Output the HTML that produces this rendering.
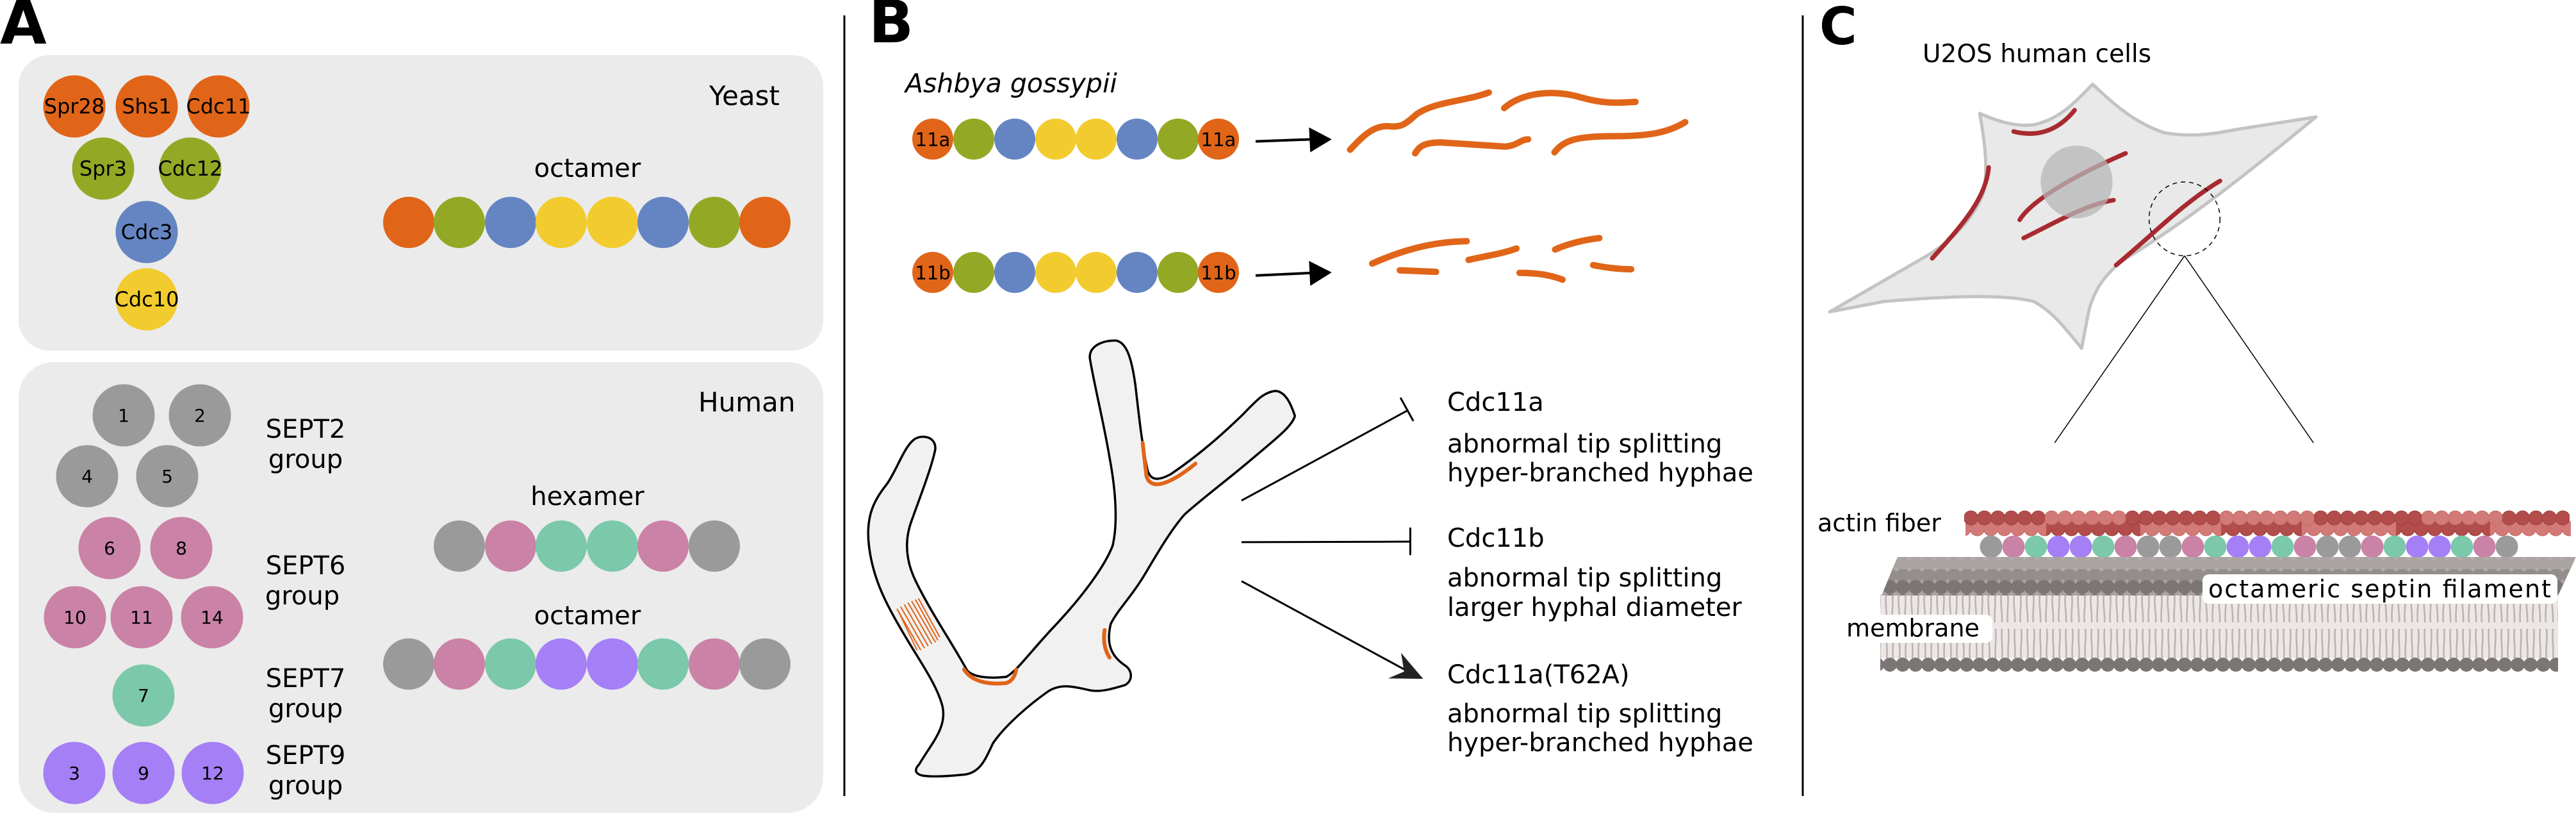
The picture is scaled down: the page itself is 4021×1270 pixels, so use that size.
<!DOCTYPE html>
<html><head><meta charset="utf-8"><style>
html,body{margin:0;padding:0;background:#fff;}
svg{display:block;}
text{font-family:"DejaVu Sans","Liberation Sans",sans-serif;fill:#000;}
</style></head><body>
<svg width="4021" height="1270" viewBox="0 0 4021 1270" xmlns="http://www.w3.org/2000/svg">
<defs>
<pattern id="beadD" x="0" y="796" width="21" height="24" patternUnits="userSpaceOnUse"><circle cx="10.5" cy="12" r="11" fill="#b24d4b" stroke="#9a3c3a" stroke-width="1"/></pattern>
<pattern id="beadL" x="0" y="796" width="21" height="24" patternUnits="userSpaceOnUse"><circle cx="10.5" cy="12" r="11" fill="#d27a77" stroke="#c06864" stroke-width="1"/></pattern>
<pattern id="headsTop1" x="0" y="870" width="20" height="20" patternUnits="userSpaceOnUse"><rect width="20" height="20" fill="#b3aeac"/><circle cx="10" cy="10" r="11" fill="#a9a4a2"/></pattern>
<pattern id="headsTop2" x="0" y="888" width="20" height="20" patternUnits="userSpaceOnUse"><circle cx="10" cy="10" r="11" fill="#938e8c"/></pattern>
<pattern id="headsTop3" x="0" y="905" width="20" height="22" patternUnits="userSpaceOnUse"><circle cx="10" cy="11" r="11" fill="#7b7674"/></pattern>
<pattern id="headsBot" x="0" y="1026" width="20" height="22" patternUnits="userSpaceOnUse"><circle cx="10" cy="11" r="11" fill="#7b7674"/></pattern>
<pattern id="tails" x="0" y="927" width="20" height="100" patternUnits="userSpaceOnUse">
<path d="M4,0 C2,15 6,30 5,44 M14,0 C16,15 12,30 14,44 M5,54 C3,70 7,85 5,100 M15,54 C17,70 13,85 15,100" stroke="#b8b2b0" stroke-width="2.5" fill="none"/></pattern>
</defs>

<!-- ===== Panel A ===== -->
<text x="0" y="68" font-size="94" font-weight="bold">A</text>
<rect x="29" y="86" width="1256" height="461" rx="48" fill="#ebebeb"/>
<rect x="29" y="565" width="1256" height="703" rx="55" fill="#ebebeb"/>

<g font-size="32" text-anchor="middle">
<circle cx="116" cy="166" r="48.5" fill="#e06519"/><text x="116" y="177">Spr28</text>
<circle cx="229" cy="166" r="48.5" fill="#e06519"/><text x="229" y="177">Shs1</text>
<circle cx="341" cy="166" r="48.5" fill="#e06519"/><text x="341" y="177">Cdc11</text>
<circle cx="161" cy="263" r="48.5" fill="#93a925"/><text x="161" y="274">Spr3</text>
<circle cx="297" cy="263" r="48.5" fill="#93a925"/><text x="297" y="274">Cdc12</text>
<circle cx="229" cy="362" r="48.5" fill="#6585c2"/><text x="229" y="373">Cdc3</text>
<circle cx="229" cy="467" r="48.5" fill="#f2cb2e"/><text x="229" y="478">Cdc10</text>
</g>
<text x="1107" y="164" font-size="42">Yeast</text>
<text x="917" y="276" font-size="40" text-anchor="middle">octamer</text>
<g>
<circle cx="638" cy="347" r="40" fill="#e06519"/><circle cx="717" cy="347" r="40" fill="#93a925"/>
<circle cx="797" cy="347" r="40" fill="#6585c2"/><circle cx="876" cy="347" r="40" fill="#f2cb2e"/>
<circle cx="956" cy="347" r="40" fill="#f2cb2e"/><circle cx="1035" cy="347" r="40" fill="#6585c2"/>
<circle cx="1115" cy="347" r="40" fill="#93a925"/><circle cx="1194" cy="347" r="40" fill="#e06519"/>
</g>

<text x="1090" y="642" font-size="42">Human</text>
<g font-size="28" text-anchor="middle">
<circle cx="193" cy="648" r="48.5" fill="#9a9a9a"/><text x="193" y="658">1</text>
<circle cx="312" cy="648" r="48.5" fill="#9a9a9a"/><text x="312" y="658">2</text>
<circle cx="136" cy="743" r="48.5" fill="#9a9a9a"/><text x="136" y="753">4</text>
<circle cx="261" cy="743" r="48.5" fill="#9a9a9a"/><text x="261" y="753">5</text>
<circle cx="171" cy="855" r="48.5" fill="#ca82a6"/><text x="171" y="865">6</text>
<circle cx="283" cy="855" r="48.5" fill="#ca82a6"/><text x="283" y="865">8</text>
<circle cx="117" cy="963" r="48.5" fill="#ca82a6"/><text x="117" y="973">10</text>
<circle cx="221" cy="963" r="48.5" fill="#ca82a6"/><text x="221" y="973">11</text>
<circle cx="331" cy="963" r="48.5" fill="#ca82a6"/><text x="331" y="973">14</text>
<circle cx="224" cy="1085" r="48.5" fill="#7bc8ab"/><text x="224" y="1095">7</text>
<circle cx="116" cy="1206" r="48.5" fill="#a47ff5"/><text x="116" y="1216">3</text>
<circle cx="224" cy="1206" r="48.5" fill="#a47ff5"/><text x="224" y="1216">9</text>
<circle cx="332" cy="1206" r="48.5" fill="#a47ff5"/><text x="332" y="1216">12</text>
</g>
<g font-size="40" text-anchor="middle">
<text x="477" y="683">SEPT2</text><text x="477" y="730">group</text>
<text x="477" y="896">SEPT6</text><text x="472" y="943">group</text>
<text x="477" y="1072">SEPT7</text><text x="477" y="1119">group</text>
<text x="477" y="1192">SEPT9</text><text x="477" y="1239">group</text>
</g>
<text x="917" y="788" font-size="40" text-anchor="middle">hexamer</text>
<g>
<circle cx="717" cy="852" r="40" fill="#9a9a9a"/><circle cx="797" cy="852" r="40" fill="#ca82a6"/>
<circle cx="876" cy="852" r="40" fill="#7bc8ab"/><circle cx="956" cy="852" r="40" fill="#7bc8ab"/>
<circle cx="1035" cy="852" r="40" fill="#ca82a6"/><circle cx="1115" cy="852" r="40" fill="#9a9a9a"/>
</g>
<text x="917" y="974" font-size="40" text-anchor="middle">octamer</text>
<g>
<circle cx="638" cy="1036" r="40" fill="#9a9a9a"/><circle cx="717" cy="1036" r="40" fill="#ca82a6"/>
<circle cx="797" cy="1036" r="40" fill="#7bc8ab"/><circle cx="876" cy="1036" r="40" fill="#a47ff5"/>
<circle cx="956" cy="1036" r="40" fill="#a47ff5"/><circle cx="1035" cy="1036" r="40" fill="#7bc8ab"/>
<circle cx="1115" cy="1036" r="40" fill="#ca82a6"/><circle cx="1194" cy="1036" r="40" fill="#9a9a9a"/>
</g>

<line x1="1318" y1="24" x2="1318" y2="1242" stroke="#000" stroke-width="3"/>
<line x1="2814" y1="24" x2="2814" y2="1242" stroke="#000" stroke-width="3"/>

<!-- ===== Panel B ===== -->
<text x="1356" y="66" font-size="92" font-weight="bold">B</text>
<text x="1413" y="144" font-size="41" font-style="italic">Ashbya gossypii</text>
<g>
<circle cx="1456" cy="217" r="32" fill="#e06519"/><circle cx="1520" cy="217" r="32" fill="#93a925"/>
<circle cx="1584" cy="217" r="32" fill="#6585c2"/><circle cx="1648" cy="217" r="32" fill="#f2cb2e"/>
<circle cx="1711" cy="217" r="32" fill="#f2cb2e"/><circle cx="1775" cy="217" r="32" fill="#6585c2"/>
<circle cx="1839" cy="217" r="32" fill="#93a925"/><circle cx="1902" cy="217" r="32" fill="#e06519"/>
<circle cx="1456" cy="425" r="32" fill="#e06519"/><circle cx="1520" cy="425" r="32" fill="#93a925"/>
<circle cx="1584" cy="425" r="32" fill="#6585c2"/><circle cx="1648" cy="425" r="32" fill="#f2cb2e"/>
<circle cx="1711" cy="425" r="32" fill="#f2cb2e"/><circle cx="1775" cy="425" r="32" fill="#6585c2"/>
<circle cx="1839" cy="425" r="32" fill="#93a925"/><circle cx="1902" cy="425" r="32" fill="#e06519"/>
</g>
<g font-size="29" text-anchor="middle">
<text x="1456" y="228">11a</text><text x="1902" y="228">11a</text>
<text x="1456" y="436">11b</text><text x="1902" y="436">11b</text>
</g>

<g transform="translate(1320,0) scale(0.958,0.811)">
<line x1="668" y1="272" x2="760" y2="268" stroke="#000" stroke-width="4" vector-effect="non-scaling-stroke"/>
<polygon points="755,245 792,268 757,293" fill="#000"/>
<line x1="668" y1="530" x2="760" y2="525" stroke="#000" stroke-width="4" vector-effect="non-scaling-stroke"/>
<polygon points="755,502 792,524 757,550" fill="#000"/>
<g stroke="#e06519" stroke-width="10" stroke-linecap="round" fill="none">
<path vector-effect="non-scaling-stroke" d="M822,288 C840,265 860,240 885,243 C908,246 915,235 930,220 C960,195 1010,195 1048,178"/>
<path vector-effect="non-scaling-stroke" d="M1073,208 C1100,180 1150,170 1200,188 C1235,200 1260,198 1287,196"/>
<path vector-effect="non-scaling-stroke" d="M928,295 C935,280 945,274 970,274 L1075,282 C1095,280 1100,268 1112,268"/>
<path vector-effect="non-scaling-stroke" d="M1155,293 C1170,270 1190,262 1250,262 C1310,262 1340,255 1368,235"/>
<path vector-effect="non-scaling-stroke" d="M858,507 C900,485 950,465 1012,464"/>
<path vector-effect="non-scaling-stroke" d="M903,520 L962,523"/>
<path vector-effect="non-scaling-stroke" d="M1015,500 C1045,492 1070,488 1093,478"/>
<path vector-effect="non-scaling-stroke" d="M1098,525 C1130,525 1150,530 1168,538"/>
<path vector-effect="non-scaling-stroke" d="M1156,480 C1175,470 1200,462 1228,458"/>
<path vector-effect="non-scaling-stroke" d="M1218,510 C1240,515 1260,518 1280,518"/>
</g>
<path vector-effect="non-scaling-stroke" d="M120,1470 C140,1430 165,1400 158,1360 C150,1320 120,1270 100,1230 C70,1170 45,1120 38,1050 C32,990 48,960 68,930 C85,900 95,860 112,845 C125,835 148,840 146,865 C140,900 120,960 108,1000 C95,1040 98,1080 115,1120 C140,1180 175,1240 198,1290 C210,1305 240,1305 262,1302 C280,1290 300,1255 340,1205 C380,1155 420,1095 435,1050 C445,1000 438,930 430,880 C420,810 405,740 398,690 C396,668 415,655 440,655 C458,658 466,690 472,740 C478,800 482,850 492,905 C497,925 510,925 530,912 C570,880 610,840 645,800 C670,770 680,755 700,752 C716,753 725,775 732,800 C728,820 700,845 660,885 C620,925 580,960 552,990 C530,1020 510,1060 490,1100 C465,1150 445,1170 432,1200 C425,1235 430,1260 455,1280 C468,1290 468,1310 455,1318 C435,1325 415,1332 398,1328 C370,1320 350,1315 330,1330 C300,1355 260,1395 240,1430 C228,1460 220,1485 195,1490 C170,1493 140,1495 125,1492 C112,1488 112,1480 120,1470 Z" fill="#f1f1f1" stroke="#000" stroke-width="3.5"/>
<g stroke="#e06519" fill="none" stroke-linecap="round">
<path vector-effect="non-scaling-stroke" stroke-width="6" d="M484,852 L490,915 C495,940 520,940 570,892"/>
<path vector-effect="non-scaling-stroke" stroke-width="6" d="M193,1288 C205,1310 230,1318 262,1314 C272,1310 276,1300 278,1288"/>
<path vector-effect="non-scaling-stroke" stroke-width="6" d="M422,1212 C419,1235 423,1252 430,1265"/>
<g stroke-width="2">
<line vector-effect="non-scaling-stroke" x1="84" y1="1172" x2="122" y2="1250"/>
<line vector-effect="non-scaling-stroke" x1="90" y1="1168" x2="128" y2="1246"/>
<line vector-effect="non-scaling-stroke" x1="96" y1="1164" x2="134" y2="1242"/>
<line vector-effect="non-scaling-stroke" x1="102" y1="1160" x2="140" y2="1238"/>
<line vector-effect="non-scaling-stroke" x1="108" y1="1157" x2="146" y2="1235"/>
<line vector-effect="non-scaling-stroke" x1="114" y1="1154" x2="150" y2="1231"/>
<line vector-effect="non-scaling-stroke" x1="119" y1="1152" x2="153" y2="1225"/>
<line vector-effect="non-scaling-stroke" x1="86" y1="1176" x2="116" y2="1250"/>
</g>
</g>
<line vector-effect="non-scaling-stroke" x1="645" y1="963" x2="915" y2="790" stroke="#000" stroke-width="3"/>
<line vector-effect="non-scaling-stroke" x1="904" y1="765" x2="925" y2="810" stroke="#000" stroke-width="3"/>
<line vector-effect="non-scaling-stroke" x1="645" y1="1043" x2="920" y2="1042" stroke="#000" stroke-width="3"/>
<line vector-effect="non-scaling-stroke" x1="920" y1="1015" x2="920" y2="1068" stroke="#000" stroke-width="3"/>
<line vector-effect="non-scaling-stroke" x1="645" y1="1118" x2="920" y2="1294" stroke="#000" stroke-width="3"/>
<polygon points="941,1306 884,1305 910,1292 905,1256" fill="#222"/>
</g>
<g font-size="40">
<text x="2259" y="641">Cdc11a</text>
<text x="2259" y="706">abnormal tip splitting</text>
<text x="2259" y="751">hyper-branched hyphae</text>
<text x="2259" y="853">Cdc11b</text>
<text x="2259" y="915">abnormal tip splitting</text>
<text x="2259" y="961">larger hyphal diameter</text>
<text x="2259" y="1066">Cdc11a(T62A)</text>
<text x="2259" y="1127">abnormal tip splitting</text>
<text x="2259" y="1172">hyper-branched hyphae</text>
</g>

<!-- ===== Panel C ===== -->
<text x="2840" y="69" font-size="80" font-weight="bold">C</text>
<text x="3001" y="97" font-size="39">U2OS human cells</text>
<g transform="translate(2800,0) scale(0.78,0.811)">
<path vector-effect="non-scaling-stroke" d="M72,600 L270,490 C320,460 360,420 380,370 C390,320 380,260 372,218 C400,230 440,245 480,240 C530,230 560,200 598,162 C640,200 680,235 740,255 C780,262 820,262 880,250 L1045,225 C900,340 780,430 660,500 C620,530 600,560 590,600 L576,670 C550,640 520,600 480,580 C420,565 300,570 180,580 Z" fill="#e9e9e9" stroke="#c3c3c3" stroke-width="5" stroke-linejoin="round"/>
<g stroke="#a82a30" stroke-width="7" fill="none" stroke-linecap="round">
<path vector-effect="non-scaling-stroke" d="M440,253 C490,265 530,250 562,212"/>
<path vector-effect="non-scaling-stroke" d="M390,322 C385,380 340,430 277,497"/>
<path vector-effect="non-scaling-stroke" d="M452,423 C480,380 580,330 664,295"/>
<path vector-effect="non-scaling-stroke" d="M460,458 C520,430 580,395 640,385"/>
<path vector-effect="non-scaling-stroke" d="M645,510 C720,450 780,390 853,348"/>
</g>
<ellipse cx="566" cy="350" rx="72" ry="70" fill="#b5b5b5" opacity="0.75"/>
<circle cx="782" cy="421" r="71" fill="none" stroke="#000" stroke-width="1.5" stroke-dasharray="7 6" vector-effect="non-scaling-stroke"/>
<line vector-effect="non-scaling-stroke" x1="782" y1="492" x2="522" y2="852" stroke="#000" stroke-width="1.5"/>
<line vector-effect="non-scaling-stroke" x1="782" y1="492" x2="1040" y2="852" stroke="#000" stroke-width="1.5"/>
</g>

<text x="2837" y="829" font-size="38">actin fiber</text>
<g transform="translate(10,17)">
<rect x="3058" y="796" width="126" height="24" fill="url(#beadL)"/>
<rect x="3184" y="796" width="147" height="24" fill="url(#beadD)"/>
<rect x="3331" y="796" width="126" height="24" fill="url(#beadL)"/>
<rect x="3457" y="796" width="126" height="24" fill="url(#beadD)"/>
<rect x="3583" y="796" width="147" height="24" fill="url(#beadL)"/>
<rect x="3730" y="796" width="147" height="24" fill="url(#beadD)"/>
<rect x="3877" y="796" width="126" height="24" fill="url(#beadL)"/>
</g>
<g>
<rect x="3066" y="796" width="126" height="24" fill="url(#beadD)"/>
<rect x="3192" y="796" width="126" height="24" fill="url(#beadL)"/>
<rect x="3318" y="796" width="147" height="24" fill="url(#beadD)"/>
<rect x="3465" y="796" width="147" height="24" fill="url(#beadL)"/>
<rect x="3612" y="796" width="168" height="24" fill="url(#beadD)"/>
<rect x="3780" y="796" width="126" height="24" fill="url(#beadL)"/>
<rect x="3906" y="796" width="105" height="24" fill="url(#beadD)"/>
</g>
<g>
<circle cx="3108" cy="853" r="17.5" fill="#9a9a9a"/><circle cx="3143" cy="853" r="17.5" fill="#ca82a6"/>
<circle cx="3178" cy="853" r="17.5" fill="#7bc8ab"/><circle cx="3213" cy="853" r="17.5" fill="#a47ff5"/>
<circle cx="3248" cy="853" r="17.5" fill="#a47ff5"/><circle cx="3283" cy="853" r="17.5" fill="#7bc8ab"/>
<circle cx="3318" cy="853" r="17.5" fill="#ca82a6"/><circle cx="3353" cy="853" r="17.5" fill="#9a9a9a"/>
<circle cx="3388" cy="853" r="17.5" fill="#9a9a9a"/><circle cx="3423" cy="853" r="17.5" fill="#ca82a6"/>
<circle cx="3458" cy="853" r="17.5" fill="#7bc8ab"/><circle cx="3493" cy="853" r="17.5" fill="#a47ff5"/>
<circle cx="3528" cy="853" r="17.5" fill="#a47ff5"/><circle cx="3563" cy="853" r="17.5" fill="#7bc8ab"/>
<circle cx="3598" cy="853" r="17.5" fill="#ca82a6"/><circle cx="3633" cy="853" r="17.5" fill="#9a9a9a"/>
<circle cx="3668" cy="853" r="17.5" fill="#9a9a9a"/><circle cx="3703" cy="853" r="17.5" fill="#ca82a6"/>
<circle cx="3738" cy="853" r="17.5" fill="#7bc8ab"/><circle cx="3773" cy="853" r="17.5" fill="#a47ff5"/>
<circle cx="3808" cy="853" r="17.5" fill="#a47ff5"/><circle cx="3843" cy="853" r="17.5" fill="#7bc8ab"/>
<circle cx="3878" cy="853" r="17.5" fill="#ca82a6"/><circle cx="3913" cy="853" r="17.5" fill="#9a9a9a"/>
</g>
<rect x="2935" y="927" width="1058" height="100" fill="#ece7e5"/>
<rect x="2935" y="927" width="1058" height="100" fill="url(#tails)"/>
<rect x="2935" y="1026" width="1058" height="22" fill="url(#headsBot)"/>
<polygon points="2937,929 2962,869 4021,869 3993,929" fill="#a8a3a1"/>
<clipPath id="leaf"><polygon points="2937,929 2962,869 4021,869 3993,929"/></clipPath>
<g clip-path="url(#leaf)">
<rect x="2930" y="870" width="1100" height="20" fill="url(#headsTop1)"/>
<rect x="2930" y="888" width="1100" height="20" fill="url(#headsTop2)"/>
<rect x="2930" y="905" width="1100" height="24" fill="url(#headsTop3)"/>
</g>
<rect x="3438" y="896" width="554" height="46" rx="10" fill="#fff"/>
<text x="3447" y="932" font-size="38" textLength="535">octameric septin filament</text>
<rect x="2878" y="959" width="232" height="44" rx="10" fill="#fff"/>
<text x="2882" y="993" font-size="38">membrane</text>
</svg>
</body></html>
